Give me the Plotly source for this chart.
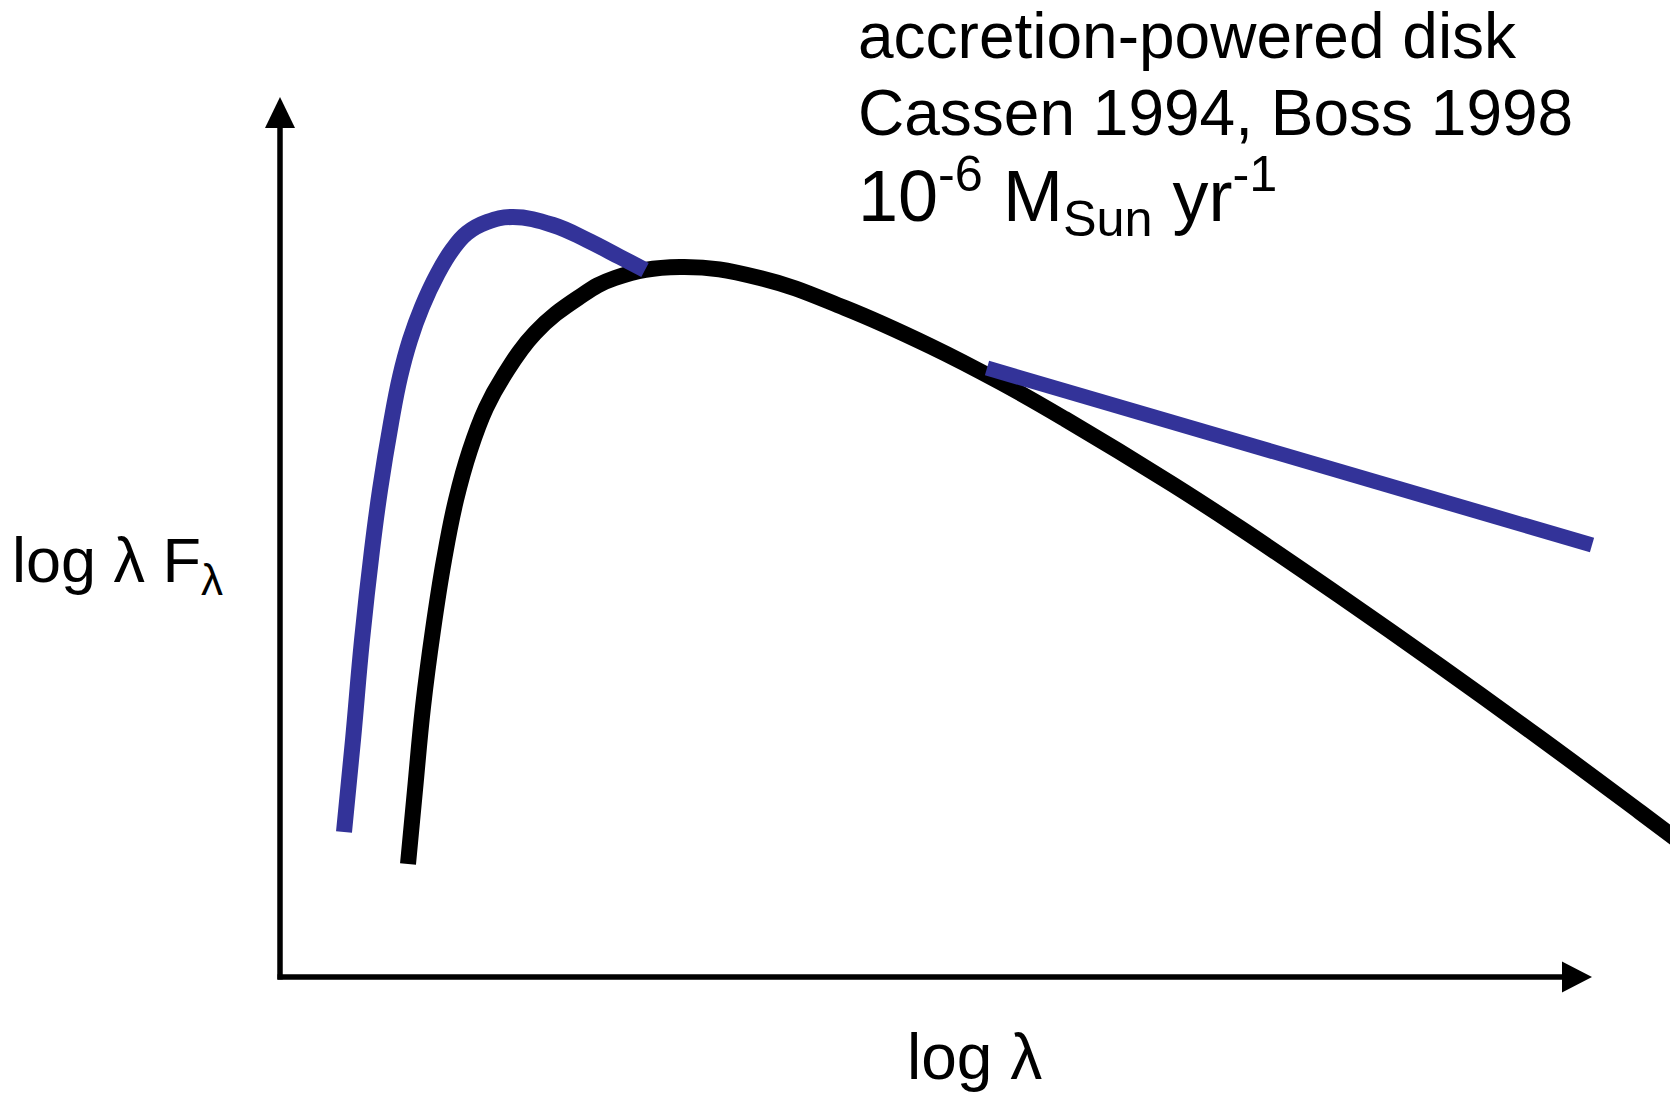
import plotly.graph_objects as go

# Schematic SED: log(lambda) on x, log(lambda F_lambda) on y (arbitrary units)
black_logl = [1.28, 1.35, 1.43, 1.53, 1.64, 1.76, 1.90, 2.06, 2.23, 2.55, 2.98, 3.35, 4.00,
              4.80, 5.65, 6.50, 7.20, 7.85, 8.92, 9.60, 10.60, 11.60, 12.60, 13.60, 14.40]
black_logf = [1.13, 1.87, 2.70, 3.47, 4.17, 4.77, 5.27, 5.69, 6.00, 6.44, 6.79, 6.99, 7.10,
              6.99, 6.69, 6.31, 5.95, 5.58, 4.93, 4.49, 3.81, 3.11, 2.39, 1.65, 1.05]

# accretion-powered disk: hot inner part
blue_peak_logl = [0.64, 0.73, 0.82, 0.92, 1.00, 1.11, 1.20, 1.30, 1.42, 1.58, 1.72, 1.87,
                  2.07, 2.33, 2.73, 3.07, 3.40, 3.65]
blue_peak_logf = [1.45, 2.37, 3.37, 4.27, 4.87, 5.54, 6.00, 6.37, 6.70, 7.04, 7.27, 7.44,
                  7.55, 7.60, 7.52, 7.37, 7.20, 7.07]

# accretion-powered disk: long-wavelength power law
blue_tail_logl = [7.07, 13.12]
blue_tail_logf = [6.09, 4.32]

BLUE = "#333399"
FONT = "Liberation Sans, Arial, sans-serif"

fig = go.Figure()
fig.add_trace(go.Scatter(x=black_logl, y=black_logf, mode="lines",
                         line=dict(color="black", width=16, shape="spline",
                                   smoothing=1.2, simplify=False),
                         hoverinfo="skip"))
fig.add_trace(go.Scatter(x=blue_peak_logl, y=blue_peak_logf, mode="lines",
                         line=dict(color=BLUE, width=16, shape="spline",
                                   smoothing=1.2, simplify=False),
                         hoverinfo="skip"))
fig.add_trace(go.Scatter(x=blue_tail_logl, y=blue_tail_logf, mode="lines",
                         line=dict(color=BLUE, width=15),
                         hoverinfo="skip"))

# hand-drawn style axes with arrowheads
axis_line = dict(color="black", width=5.5)
fig.add_shape(type="line", x0=0, y0=-0.025, x1=0, y1=8.52, line=axis_line)
fig.add_shape(type="line", x0=-0.025, y0=0, x1=12.85, y1=0, line=axis_line)
fig.add_shape(type="path", path="M -0.15 8.49 L 0 8.80 L 0.15 8.49 Z",
              fillcolor="black", line=dict(width=0))
fig.add_shape(type="path", path="M 12.82 -0.155 L 13.12 0 L 12.82 0.155 Z",
              fillcolor="black", line=dict(width=0))

def label(x, y, text, size):
    fig.add_annotation(x=x, y=y, xref="x", yref="y", text=text, showarrow=False,
                       xanchor="left", yanchor="middle",
                       font=dict(family=FONT, size=size, color="black"))

label(5.76, 9.406, "accretion-powered disk", 64)
label(5.76, 8.642, "Cassen 1994, Boss 1998", 64)
label(5.76, 7.81, "10<sup>-6</sup> M<sub>Sun</sub> yr<sup>-1</sup>", 72)
label(-2.70, 4.125, "log λ F<sub>λ</sub>", 63)
label(6.25, -0.80, "log λ", 64)

fig.update_layout(
    width=1670, height=1098,
    margin=dict(l=0, r=0, t=0, b=0),
    paper_bgcolor="white", plot_bgcolor="white",
    showlegend=False,
    xaxis=dict(range=[-2.80, 13.90], visible=False, fixedrange=True),
    yaxis=dict(range=[-1.21, 9.77], visible=False, fixedrange=True),
)

fig.write_html("out.html")
